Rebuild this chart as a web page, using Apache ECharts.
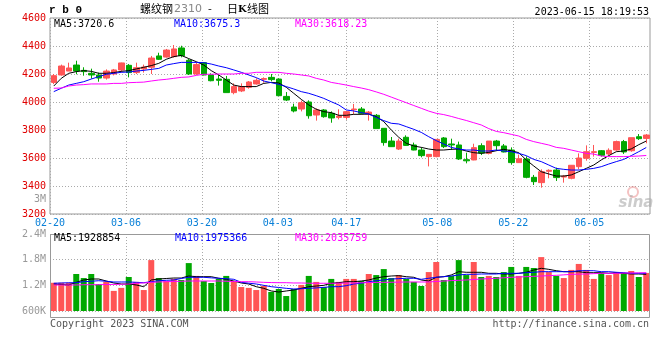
<!DOCTYPE html>
<html><head><meta charset="utf-8">
<script src="https://cdn.jsdelivr.net/npm/echarts@6.0.0/dist/echarts.min.js"></script>
<style>html,body{margin:0;padding:0;background:#fff}#c{width:660px;height:360px}</style>
</head><body><div id="c"></div>
<script>
const dates = ['02-20','02-21','02-22','02-23','02-24','02-27','02-28','03-01','03-02','03-03',
'03-06','03-07','03-08','03-09','03-10','03-13','03-14','03-15','03-16','03-17',
'03-20','03-21','03-22','03-23','03-24','03-27','03-28','03-29','03-30','03-31',
'04-03','04-04','04-06','04-07','04-10','04-11','04-12','04-13','04-14',
'04-17','04-18','04-19','04-20','04-21','04-24','04-25','04-26','04-27','04-28',
'05-04','05-05','05-08','05-09','05-10','05-11','05-12','05-15','05-16','05-17','05-18','05-19',
'05-22','05-23','05-24','05-25','05-26','05-29','05-30','05-31','06-01','06-02',
'06-05','06-06','06-07','06-08','06-09','06-12','06-13','06-14','06-15'];
const tickDates = ['02-20','03-06','03-20','04-03','04-17','05-08','05-22','06-05'];

const opens  = [4140,4193,4221,4264,4226,4205,4193,4171,4200,4229,4262,4210,4236,4248,4329,4321,4324,4386,4298,4200,
4281,4193,4164,4162,4067,4079,4105,4129,4162,4176,4164,4040,3964,3950,4000,3907,3943,3919,3890,3890,
3945,3950,3914,3905,3812,3721,3664,3748,3693,3657,3610,3610,3743,3700,3693,3588,3586,3688,3633,3721,
3686,3657,3567,3593,3462,3424,3505,3514,3464,3455,3538,3598,3640,3652,3629,3657,3717,3652,3752,3740];
const closes = [4188,4257,4243,4221,4217,4193,4171,4221,4229,4279,4210,4245,4250,4314,4305,4371,4379,4331,4200,4267,
4193,4152,4155,4067,4110,4110,4143,4155,4167,4160,4045,4014,3936,3995,3902,3943,3895,3886,3900,3931,
3950,3919,3928,3810,3710,3681,3721,3690,3657,3617,3626,3733,3681,3693,3593,3580,3674,3636,3721,3688,
3643,3567,3595,3462,3431,3502,3512,3460,3470,3548,3600,3645,3645,3619,3655,3717,3643,3745,3738,3764];
const lows   = [4128,4188,4221,4198,4188,4167,4145,4160,4190,4212,4176,4200,4210,4200,4300,4317,4317,4319,4193,4193,
4190,4148,4117,4067,4055,4071,4095,4124,4138,4148,4043,4007,3926,3933,3881,3867,3888,3852,3876,3874,
3912,3912,3867,3810,3688,3679,3657,3686,3655,3605,3540,3605,3671,3657,3586,3562,3584,3621,3626,3652,
3640,3552,3565,3455,3407,3388,3455,3436,3424,3448,3519,3581,3610,3610,3619,3652,3629,3645,3729,3705];
const highs  = [4200,4267,4281,4295,4248,4238,4210,4233,4236,4281,4271,4281,4267,4329,4352,4379,4407,4402,4307,4283,
4283,4205,4193,4186,4133,4133,4150,4169,4176,4200,4169,4071,3988,4010,4012,3955,3950,3933,3948,3936,
3986,3964,3936,3914,3812,3750,3738,3762,3710,3676,3628,3733,3750,3738,3717,3638,3702,3705,3721,3729,
3700,3676,3624,3612,3479,3519,3519,3531,3479,3550,3633,3690,3693,3657,3669,3724,3729,3745,3771,3771];

const ma5  = [4114,4169,4205,4217,4224,4219,4205,4205,4210,4219,4224,4236,4248,4260,4276,4305,4324,4333,4310,4288,
4264,4224,4193,4157,4121,4110,4110,4110,4133,4140,4136,4105,4062,4019,3979,3948,3931,3924,3905,3905,
3912,3912,3914,3895,3860,3800,3748,3705,3686,3676,3664,3657,3657,3662,3664,3650,3638,3633,3640,3652,
3662,3652,3638,3586,3543,3502,3486,3471,3471,3479,3502,3526,3550,3586,3617,3645,3650,3665,3695,3721];
const ma10 = [4074,4098,4121,4133,4145,4164,4181,4198,4205,4212,4214,4221,4226,4233,4240,4264,4274,4283,4283,4283,
4281,4271,4257,4245,4229,4212,4193,4174,4150,4138,4126,4110,4093,4074,4062,4045,4026,4002,3979,3943,
3936,3924,3914,3890,3867,3848,3843,3824,3805,3783,3752,3724,3700,3676,3664,3657,3657,3650,3650,3657,
3650,3645,3633,3617,3590,3574,3550,3526,3519,3514,3514,3519,3526,3538,3557,3574,3590,3617,3645,3675];
const ma30 = [4098,4100,4114,4121,4124,4129,4129,4129,4133,4133,4138,4140,4142,4150,4157,4162,4169,4176,4179,4190,
4198,4198,4200,4200,4200,4205,4205,4212,4212,4212,4212,4205,4200,4193,4186,4169,4157,4140,4131,4121,
4110,4100,4088,4072,4055,4035,4015,3995,3975,3955,3935,3919,3910,3897,3882,3868,3852,3836,3810,3790,
3781,3769,3757,3733,3717,3705,3693,3676,3669,3657,3645,3633,3628,3614,3610,3610,3610,3612,3614,3618];

const volumes = [1260000,1260000,1260000,1465000,1370000,1465000,1230000,1285000,1070000,1140000,
1395000,1280000,1090000,1790000,1370000,1300000,1350000,1325000,1720000,1420000,
1300000,1255000,1350000,1420000,1300000,1160000,1140000,1090000,1185000,1045000,
1115000,950000,1115000,1210000,1420000,1280000,1160000,1350000,1280000,1350000,
1350000,1300000,1465000,1440000,1580000,1370000,1440000,1350000,1280000,1185000,
1510000,1745000,1325000,1420000,1790000,1440000,1745000,1395000,1420000,1395000,
1510000,1630000,1420000,1630000,1605000,1860000,1510000,1420000,1370000,1560000,
1700000,1560000,1350000,1490000,1440000,1510000,1490000,1535000,1395000,1490000];
const volMa5 = [1231000,1220000,1208000,1270000,1325000,1348000,1348000,1301000,1255000,1231000,
1231000,1208000,1168000,1325000,1348000,1360000,1371000,1371000,1418000,1402000,
1402000,1402000,1365000,1341000,1301000,1255000,1231000,1168000,1130000,1068000,
1044000,1068000,1091000,1130000,1168000,1184000,1200000,1248000,1262000,1285000,
1285000,1301000,1325000,1371000,1402000,1418000,1426000,1402000,1388000,1325000,
1301000,1388000,1402000,1442000,1519000,1505000,1505000,1505000,1481000,1481000,
1465000,1465000,1481000,1505000,1558000,1598000,1574000,1542000,1519000,1519000,
1519000,1495000,1495000,1495000,1481000,1495000,1481000,1465000,1465000,1457000];
const volMa10 = [1248000,1255000,1260000,1262000,1285000,1295000,1308000,1295000,1278000,1278000,
1278000,1270000,1262000,1285000,1308000,1318000,1325000,1360000,1388000,1388000,
1388000,1375000,1365000,1355000,1341000,1270000,1250000,1231000,1200000,1168000,
1150000,1130000,1115000,1120000,1130000,1140000,1153000,1168000,1168000,1192000,
1231000,1248000,1285000,1308000,1325000,1348000,1356000,1365000,1365000,1341000,
1365000,1388000,1402000,1418000,1442000,1457000,1457000,1465000,1465000,1465000,
1481000,1481000,1481000,1495000,1505000,1519000,1519000,1519000,1519000,1519000,
1542000,1542000,1542000,1519000,1519000,1505000,1495000,1481000,1481000,1481000];
const volMa30 = [1208000,1208000,1208000,1208000,1215000,1215000,1215000,1220000,1220000,1225000,
1230000,1248000,1255000,1270000,1278000,1285000,1290000,1295000,1301000,1301000,
1301000,1301000,1301000,1295000,1290000,1285000,1285000,1278000,1270000,1265000,
1262000,1262000,1255000,1255000,1250000,1248000,1248000,1248000,1250000,1252000,
1255000,1260000,1265000,1268000,1270000,1272000,1275000,1278000,1278000,1278000,
1278000,1290000,1301000,1310000,1318000,1325000,1336000,1348000,1356000,1365000,
1376000,1388000,1395000,1402000,1410000,1418000,1426000,1434000,1445000,1457000,
1461000,1465000,1473000,1481000,1481000,1481000,1485000,1488000,1492000,1495000];

const UP = '#ff5555', DOWN = '#00a800';
const MONO = '"DejaVu Sans Mono", monospace';
const CJK = '"Noto Sans CJK SC", sans-serif';
const candles = dates.map((d, i) => [opens[i], closes[i], lows[i], highs[i]]);
const volData = volumes.map((v, i) => ({ value: v, itemStyle: { color: closes[i] >= opens[i] ? UP : DOWN } }));
const isTick = (i) => tickDates.indexOf(dates[i]) >= 0;
const dot = { color: '#aaaaaa', type: [1, 2], width: 1 };

function line(name, data, color, xi, yi) {
  return { name, type: 'line', data, xAxisIndex: xi, yAxisIndex: yi, symbol: 'none', showSymbol: false,
    lineStyle: { color, width: 1 }, itemStyle: { color }, silent: true, z: 5 };
}
function txt(x, y, text, fill, font, align) {
  return { type: 'text', x, y, silent: true, z: 100,
    style: { text, fill, font, textAlign: align || 'left', textVerticalAlign: 'middle', align: align || 'left', verticalAlign: 'middle' } };
}

const chart = echarts.init(document.getElementById('c'), null, { renderer: 'canvas' });
chart.setOption({
  animation: false,
  backgroundColor: '#fff',
  grid: [
    { left: 50, right: 10, top: 18, height: 196, show: true, borderColor: '#999', borderWidth: 1, backgroundColor: 'transparent' },
    { left: 50, right: 10, top: 234, height: 77 }
  ],
  xAxis: [
    { type: 'category', gridIndex: 0, data: dates, boundaryGap: true, position: 'top', show: false },
    { type: 'category', gridIndex: 0, data: dates, boundaryGap: false, position: 'bottom',
      axisLine: { show: false }, axisTick: { show: false },
      axisLabel: { interval: (i) => isTick(i), color: '#0a80d8', fontFamily: MONO, fontSize: 10, margin: 4, showMinLabel: true },
      splitLine: { show: true, interval: (i) => isTick(i), lineStyle: dot } },
    { type: 'category', gridIndex: 1, data: dates, boundaryGap: true, position: 'top', show: false },
    { type: 'category', gridIndex: 1, data: dates, boundaryGap: false, position: 'bottom',
      axisLine: { show: false }, axisTick: { show: false }, axisLabel: { show: false },
      splitLine: { show: true, interval: (i) => isTick(i), lineStyle: dot } }
  ],
  yAxis: [
    { type: 'value', gridIndex: 0, min: 3200, max: 4600, interval: 200,
      axisLine: { show: false }, axisTick: { show: false },
      axisLabel: { color: '#e00000', fontFamily: MONO, fontSize: 10, margin: 4, formatter: (v) => String(v) },
      splitLine: { show: true, lineStyle: dot } },
    { type: 'value', gridIndex: 1, min: 600000, max: 2400000, interval: 600000,
      axisLine: { show: false }, axisTick: { show: false },
      axisLabel: { color: '#999', fontFamily: MONO, fontSize: 10, margin: 4,
        formatter: (v) => v >= 1000000 ? (v / 1000000).toFixed(1) + 'M' : (v / 1000) + 'K' },
      splitLine: { show: true, lineStyle: dot } }
  ],
  series: [
    { type: 'candlestick', xAxisIndex: 0, yAxisIndex: 0, data: candles, barWidth: 6,
      itemStyle: { color: UP, color0: DOWN, borderColor: UP, borderColor0: DOWN, borderWidth: 1 } },
    line('MA5', ma5, '#000000', 0, 0),
    line('MA10', ma10, '#0000ff', 0, 0),
    line('MA30', ma30, '#ff00ff', 0, 0),
    { type: 'bar', xAxisIndex: 2, yAxisIndex: 1, data: volData, barWidth: 6 },
    line('VMA5', volMa5, '#000000', 2, 1),
    line('VMA10', volMa10, '#0000ff', 2, 1),
    line('VMA30', volMa30, '#ff00ff', 2, 1)
  ],
  graphic: [
    { type: 'rect', silent: true, z: 50, shape: { x: 50.5, y: 234.5, width: 599, height: 83 },
      style: { fill: 'none', stroke: '#999', lineWidth: 1 } },
    txt(49, 10, 'r b 0', '#000', 'bold 11px "Liberation Mono", monospace'),
    txt(140, 9, '螺纹钢', '#000', '11px ' + CJK),
    txt(174, 9, '2310', '#888', '11px "DejaVu Sans"'),
    txt(210, 9, '-', '#000', '11px ' + CJK, 'center'),
    txt(227, 9, '日', '#000', '11px ' + CJK),
    txt(238, 9, 'K', '#000', 'bold 10px "DejaVu Serif"'),
    txt(247, 9, '线图', '#000', '11px ' + CJK),
    txt(649, 12, '2023-06-15 18:19:53', '#000', '10px ' + MONO, 'right'),
    txt(54, 24, 'MA5:3720.6', '#000', '10px ' + MONO),
    txt(174, 24, 'MA10:3675.3', '#0000ff', '10px ' + MONO),
    txt(295, 24, 'MA30:3618.23', '#ff00ff', '10px ' + MONO),
    txt(46, 199, '3M', '#999', '10px ' + MONO, 'right'),
    txt(54, 238, 'MA5:1928854', '#000', '10px ' + MONO),
    txt(175, 238, 'MA10:1975366', '#0000ff', '10px ' + MONO),
    txt(295, 238, 'MA30:2035759', '#ff00ff', '10px ' + MONO),
    txt(50, 324, 'Copyright 2023 SINA.COM', '#555', '10px ' + MONO),
    txt(649, 324, 'http://finance.sina.com.cn', '#555', '10px ' + MONO, 'right'),
    { type: 'circle', silent: true, z: 60, shape: { cx: 633, cy: 192, r: 5 },
      style: { fill: 'none', stroke: 'rgba(230,120,120,0.45)', lineWidth: 2 } },
    txt(636, 203, 'sina', 'rgba(170,170,170,0.6)', 'italic bold 15px "DejaVu Sans"', 'center')
  ]
});
</script></body></html>
